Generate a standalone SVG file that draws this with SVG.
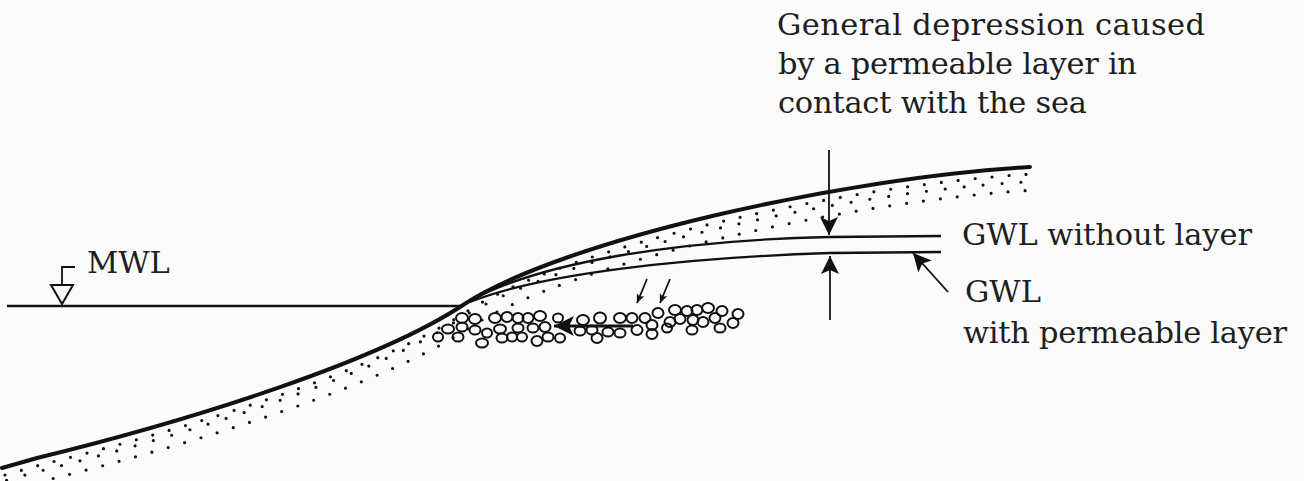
<svg xmlns="http://www.w3.org/2000/svg" xmlns:xlink="http://www.w3.org/1999/xlink" width="1304" height="481" viewBox="0 0 1304 481">
  <style>
    .lbl { font-family: "DejaVu Serif", "Liberation Serif", serif; font-size: 30.5px; fill: #1e1e1e; }
    .ground { fill: none; stroke: #111; stroke-width: 4; stroke-linecap: round; }
    .gwl { fill: none; stroke: #111; stroke-width: 2.3; }
    .thin { fill: none; stroke: #111; stroke-width: 1.8; }
    .dots { fill: none; stroke: #111; stroke-width: 3.2; stroke-linecap: round; }
    .pebble { fill: none; stroke: #111; stroke-width: 2; }
    .arrow { fill: none; stroke: #111; stroke-width: 1.8; }
  </style>
  <defs>
    <!-- crest-to-toe profile of the beach face, reused for the stipple rows -->
    <path id="profile" d="M2,468 L37,458 C200,418 380,360 463,305 C563,239 850,177 1030,167"/>
    <marker id="head" viewBox="0 0 18 18" refX="18" refY="9" markerWidth="18" markerHeight="18" markerUnits="userSpaceOnUse" orient="auto">
      <path d="M0,0 L18,9 L0,18 L4,9 Z" fill="#111"/>
    </marker>
    <marker id="headBig" viewBox="0 0 20 20" refX="20" refY="10" markerWidth="20" markerHeight="20" markerUnits="userSpaceOnUse" orient="auto">
      <path d="M0,0 L20,10 L0,20 L5,10 Z" fill="#111"/>
    </marker>
    <marker id="headSmall" viewBox="0 0 9 8" refX="9" refY="4" markerWidth="9" markerHeight="8" markerUnits="userSpaceOnUse" orient="auto">
      <path d="M0,0 L9,4 L0,8 L2,4 Z" fill="#111"/>
    </marker>
  </defs>

  <rect width="1304" height="481" fill="#fbfbfb"/>

  <!-- sand stipple under the beach surface -->
  <g id="sand">
    <use xlink:href="#profile" class="dots" transform="translate(3,7)" style="stroke-dasharray:0 17;stroke-dashoffset:0"/>
    <use xlink:href="#profile" class="dots" transform="translate(-5,15)" style="stroke-dasharray:0 19;stroke-dashoffset:9"/>
    <use xlink:href="#profile" class="dots" transform="translate(6,23)" style="stroke-dasharray:0 17;stroke-dashoffset:4"/>
  </g>

  <!-- mean water level -->
  <g id="mwl">
    <line x1="7" y1="306" x2="463" y2="306" stroke="#111" stroke-width="2.4"/>
    <polyline points="75,267 62,267 62,285" class="thin"/>
    <polygon points="51,285 73,285 62,304" fill="#fbfbfb" stroke="#111" stroke-width="2"/>
    <text x="87" y="273" class="lbl">MWL</text>
  </g>

  <!-- beach surface -->
  <g id="beach">
    <use xlink:href="#profile" class="ground"/>
  </g>

  <!-- groundwater levels -->
  <g id="gwl-without">
    <path d="M470,301 C540,262 680,240 830,237 L941,236" class="gwl"/>
    <text x="962" y="245" class="lbl" textLength="290">GWL without layer</text>
  </g>
  <g id="gwl-with">
    <path d="M470,302 C540,274 680,258 830,253 L941,252" class="gwl"/>
    <text x="965" y="302" class="lbl">GWL</text>
    <text x="963" y="343" class="lbl" textLength="324">with permeable layer</text>
  </g>

  <!-- permeable gravel layer -->
  <g id="gravel" class="pebble">
    <ellipse cx="462" cy="318" rx="6" ry="5"/><ellipse cx="475" cy="319" rx="6" ry="5"/>
    <ellipse cx="495" cy="318" rx="6" ry="5"/><ellipse cx="507" cy="317" rx="5.5" ry="5"/>
    <ellipse cx="518" cy="318" rx="5.5" ry="5"/><ellipse cx="528" cy="318" rx="5.5" ry="5"/>
    <ellipse cx="540" cy="316" rx="6" ry="5"/><ellipse cx="558" cy="318" rx="5" ry="4.5"/>
    <ellipse cx="583" cy="320" rx="6" ry="5"/><ellipse cx="600" cy="318" rx="6" ry="5.5"/>
    <ellipse cx="620" cy="318" rx="6" ry="5"/><ellipse cx="632" cy="318" rx="5.5" ry="5"/>
    <ellipse cx="645" cy="318" rx="5.5" ry="5"/><ellipse cx="658" cy="313" rx="5.5" ry="5"/>
    <ellipse cx="675" cy="310" rx="6" ry="5"/><ellipse cx="687" cy="311" rx="5.5" ry="5"/>
    <ellipse cx="697" cy="310" rx="5.5" ry="5"/><ellipse cx="708" cy="308" rx="6" ry="5"/>
    <ellipse cx="722" cy="311" rx="5.5" ry="5"/><ellipse cx="738" cy="314" rx="5.5" ry="5"/>

    <ellipse cx="448" cy="329" rx="6" ry="4.5"/><ellipse cx="462" cy="327" rx="5.5" ry="4.5"/>
    <ellipse cx="475" cy="330" rx="5.5" ry="4.5"/><ellipse cx="487" cy="333" rx="5" ry="4.5"/>
    <ellipse cx="500" cy="329" rx="6" ry="4.5"/><ellipse cx="518" cy="328" rx="5.5" ry="4.5"/>
    <ellipse cx="533" cy="328" rx="5.5" ry="4.5"/><ellipse cx="545" cy="327" rx="5.5" ry="5"/>
    <ellipse cx="580" cy="331" rx="5.5" ry="4.5"/><ellipse cx="592" cy="330" rx="5.5" ry="4.5"/>
    <ellipse cx="608" cy="332" rx="5.5" ry="4.5"/><ellipse cx="620" cy="333" rx="5.5" ry="4.5"/>
    <ellipse cx="637" cy="330" rx="5.5" ry="5"/><ellipse cx="652" cy="325" rx="5.5" ry="5"/>
    <ellipse cx="670" cy="322" rx="5.5" ry="5"/><ellipse cx="680" cy="319" rx="5.5" ry="5"/>
    <ellipse cx="693" cy="320" rx="5.5" ry="5"/><ellipse cx="703" cy="322" rx="5.5" ry="5"/>
    <ellipse cx="715" cy="318" rx="5.5" ry="5"/><ellipse cx="733" cy="323" rx="5.5" ry="5"/>

    <ellipse cx="438" cy="337" rx="5" ry="4.5"/><ellipse cx="458" cy="337" rx="5.5" ry="4.5"/>
    <ellipse cx="482" cy="343" rx="6" ry="4.5"/><ellipse cx="502" cy="338" rx="5.5" ry="4.5"/>
    <ellipse cx="512" cy="337" rx="5" ry="4.5"/><ellipse cx="522" cy="337" rx="5" ry="4.5"/>
    <ellipse cx="537" cy="341" rx="5.5" ry="5"/><ellipse cx="548" cy="337" rx="5.5" ry="4.5"/>
    <ellipse cx="560" cy="338" rx="5" ry="4.5"/><ellipse cx="597" cy="338" rx="5.5" ry="5"/>
    <ellipse cx="652" cy="334" rx="5.5" ry="5"/><ellipse cx="667" cy="328" rx="5" ry="4.5"/>
    <ellipse cx="692" cy="330" rx="5.5" ry="4.5"/><ellipse cx="720" cy="328" rx="5.5" ry="4.5"/>
  </g>

  <!-- depression annotation -->
  <g id="depression">
    <text x="777" y="35" class="lbl" textLength="428">General depression caused</text>
    <text x="778" y="74" class="lbl" textLength="359">by a permeable layer in</text>
    <text x="778" y="113" class="lbl" textLength="309">contact with the sea</text>
  </g>

  <!-- arrows -->
  <g id="connectors">
    <line x1="829" y1="150" x2="829" y2="235" class="arrow" marker-end="url(#head)"/>
    <line x1="830" y1="320" x2="830" y2="256" class="arrow" marker-end="url(#head)"/>
    <line x1="948" y1="292" x2="913" y2="253" class="arrow" marker-end="url(#head)"/>
    <line x1="633" y1="326" x2="554" y2="326" stroke="#111" stroke-width="2.8" marker-end="url(#headBig)"/>
    <line x1="647" y1="279" x2="637" y2="303" class="thin" marker-end="url(#headSmall)"/>
    <line x1="670" y1="279" x2="660" y2="303" class="thin" marker-end="url(#headSmall)"/>
  </g>
</svg>
